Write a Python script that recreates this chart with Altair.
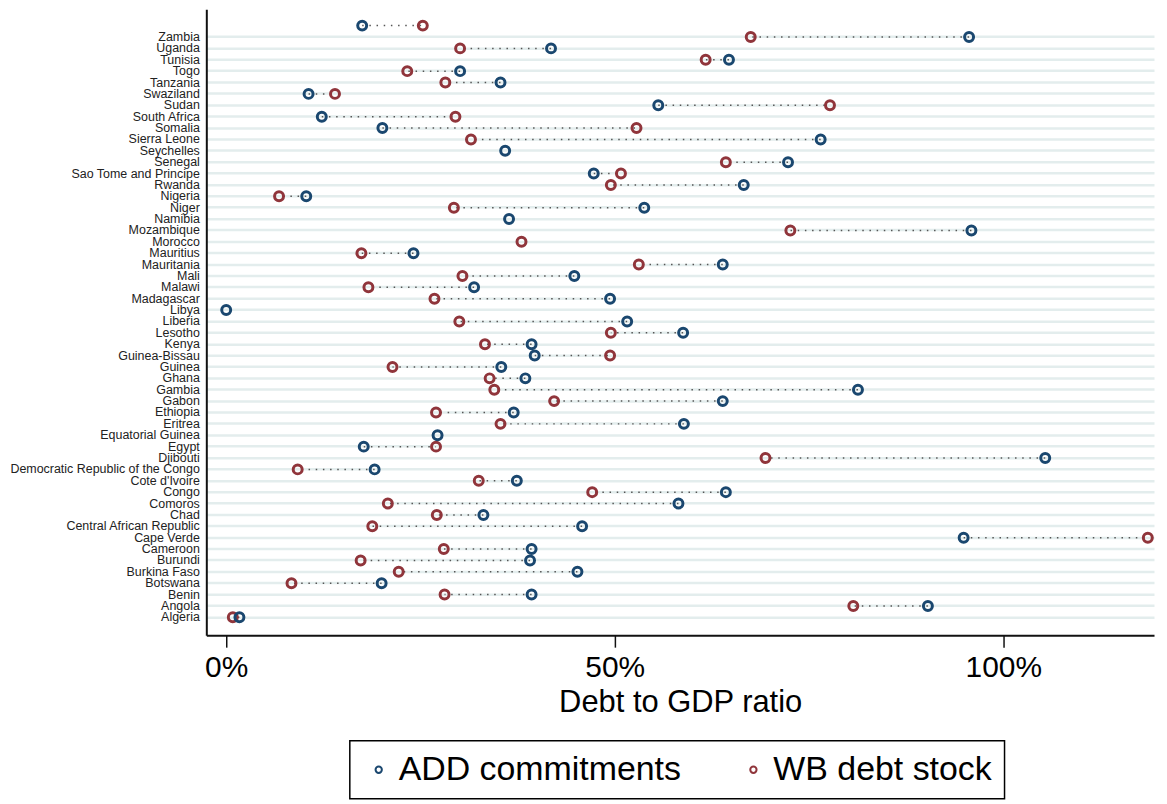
import altair as alt
import pandas as pd

countries = [
    "Zimbabwe", "Zambia", "Uganda", "Tunisia", "Togo", "Tanzania", "Swaziland", "Sudan",
    "South Africa", "Somalia", "Sierra Leone", "Seychelles", "Senegal",
    "Sao Tome and Principe", "Rwanda", "Nigeria", "Niger", "Namibia", "Mozambique",
    "Morocco", "Mauritius", "Mauritania", "Mali", "Malawi", "Madagascar", "Libya",
    "Liberia", "Lesotho", "Kenya", "Guinea-Bissau", "Guinea", "Ghana", "Gambia",
    "Gabon", "Ethiopia", "Eritrea", "Equatorial Guinea", "Egypt", "Djibouti",
    "Democratic Republic of the Congo", "Cote d'Ivoire", "Congo", "Comoros", "Chad",
    "Central African Republic", "Cape Verde", "Cameroon", "Burundi", "Burkina Faso",
    "Botswana", "Benin", "Angola", "Algeria",
]
labeled = countries[1:]  # top row carries no label in the original

add_commitments = [
    17.5, 95.6, 41.8, 64.7, 30.1, 35.3, 10.6, 55.6,
    12.3, 20.1, 76.5, 35.9, 72.3,
    47.3, 66.6, 10.3, 53.8, 36.4, 95.9,
    None, 24.1, 63.9, 44.8, 31.9, 49.4, 0.0,
    51.6, 58.8, 39.3, 39.7, 35.4, 38.5, 81.3,
    63.9, 37.0, 58.9, 27.2, 17.7, 105.4,
    19.1, 37.4, 64.3, 58.2, 33.1,
    45.8, 94.9, 39.3, 39.1, 45.2,
    20.0, 39.3, 90.3, 1.7,
]
wb_debt_stock = [
    25.3, 67.5, 30.1, 61.7, 23.3, 28.2, 14.0, 77.7,
    29.5, 52.8, 31.5, None, 64.3,
    50.8, 49.5, 6.8, 29.3, None, 72.6,
    38.0, 17.4, 53.1, 30.4, 18.3, 26.8, None,
    30.0, 49.5, 33.3, 49.4, 21.4, 33.9, 34.5,
    42.2, 27.0, 35.3, None, 27.0, 69.4,
    9.2, 32.5, 47.1, 20.8, 27.1,
    18.8, 118.6, 28.0, 17.3, 22.2,
    8.4, 28.1, 80.7, 0.85,
]

series_names = ["ADD commitments", "WB debt stock"]
series_colors = ["#1a476f", "#90353b"]

# long table for points: WB first so ADD rings are drawn on top
rows = []
for name, vals in [("WB debt stock", wb_debt_stock), ("ADD commitments", add_commitments)]:
    for c, v in zip(countries, vals):
        if v is not None:
            rows.append({"country": c, "series": name, "value": v})
points_df = pd.DataFrame(rows)

seg_rows = []
for c, a, w in zip(countries, add_commitments, wb_debt_stock):
    if a is not None and w is not None:
        seg_rows.append({"country": c, "add": a, "wb": w})
seg_df = pd.DataFrame(seg_rows)

y_scale = alt.Scale(type="band", paddingInner=0, paddingOuter=1, align=0.464)
x_scale = alt.Scale(domain=[-2.56, 119.4], nice=False, zero=False)

y_axis = alt.Axis(
    title=None, values=labeled, ticks=False, tickSize=0, labelFontSize=12.5,
    labelColor="#222222", labelPadding=7, labelLimit=400, domainColor="#111111",
    domainWidth=2, grid=True, gridColor="#e3eded", gridWidth=2.5, bandPosition=0.5,
    minExtent=199, maxExtent=199,
)
x_axis = alt.Axis(
    values=[0, 50, 100], labelExpr="datum.value + '%'", labelFontSize=30,
    labelColor="black", tickSize=12, tickWidth=1.5, tickColor="#111111",
    domainColor="#111111", domainWidth=2, labelPadding=5, grid=False,
    labelFlush=False, title="Debt to GDP ratio", titleFontSize=31,
    titleFontWeight="normal", titlePadding=6, titleColor="black",
)

rules = alt.Chart(seg_df).mark_rule(
    strokeDash=[1.5, 5.7], strokeWidth=1.5, color="#555555"
).encode(
    y=alt.Y("country:N", sort=countries, scale=y_scale, axis=y_axis),
    x=alt.X("add:Q", scale=x_scale, axis=x_axis),
    x2="wb:Q",
)

pts = alt.Chart(points_df).mark_point(
    shape="circle", filled=False, size=81, strokeWidth=3, opacity=1
).encode(
    y=alt.Y("country:N", sort=countries, scale=y_scale, axis=y_axis),
    x=alt.X("value:Q", scale=x_scale, axis=x_axis),
    color=alt.Color(
        "series:N",
        scale=alt.Scale(domain=series_names, range=series_colors),
        legend=alt.Legend(
            title=None, orient="none", legendX=144, legendY=734,
            direction="horizontal", columns=2, symbolType="circle",
            symbolSize=40, symbolStrokeWidth=2, symbolOpacity=1,
            labelFontSize=34, labelColor="black", labelOffset=3, labelLimit=600,
            columnPadding=55, padding=12, strokeColor="black",
        ),
    ),
)

chart = alt.layer(rules, pts).properties(
    width=951, height=628, padding=0
).configure(
    font="Liberation Sans"
).configure_view(
    strokeWidth=0
).configure_legend(
    strokeWidth=1.5
)

chart.save("out.html", embed_options={"renderer": "svg", "actions": False})
